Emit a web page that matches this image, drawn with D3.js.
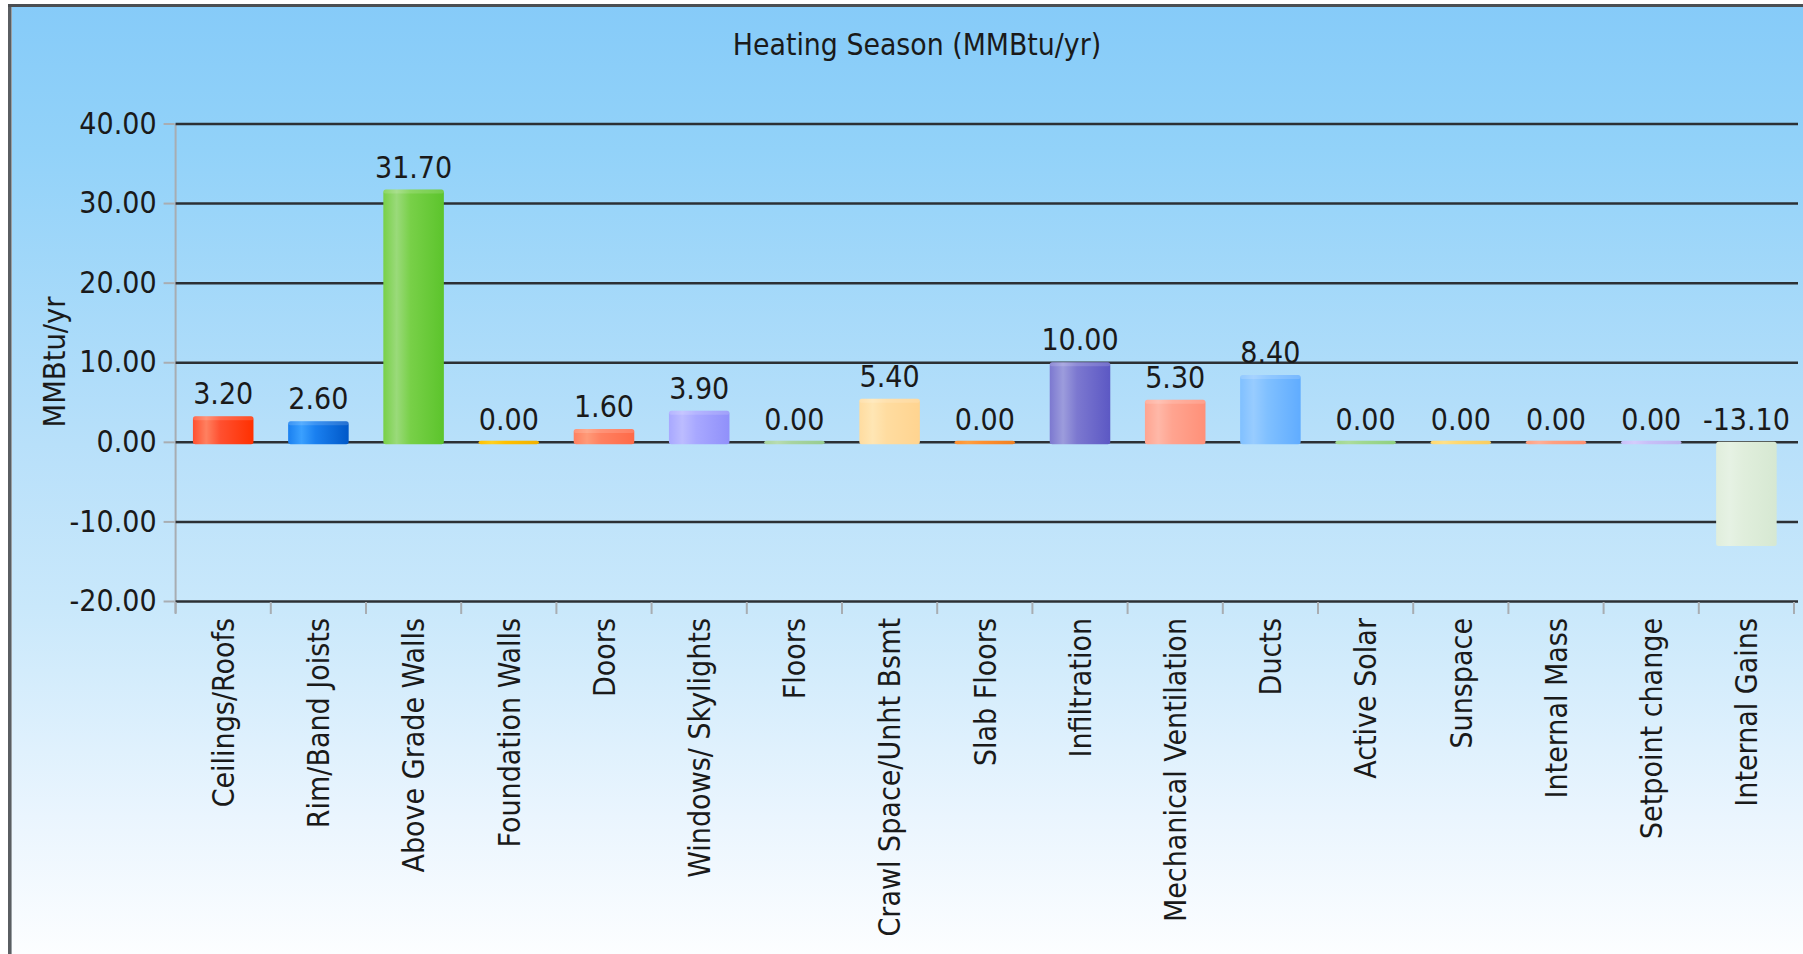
<!DOCTYPE html>
<html>
<head>
<meta charset="utf-8">
<script src="https://cdn.jsdelivr.net/npm/d3@7/dist/d3.min.js"></script>
<style>
  html, body { margin: 0; padding: 0; background: #ffffff; }
  svg { display: block; }
  text { font-family: "DejaVu Sans Condensed", "DejaVu Sans", sans-serif; font-stretch: condensed; fill: #1a1a1a; }
</style>
</head>
<body>
<svg id="chart" width="1803" height="954"></svg>
<script>
const chartTitle = "Heating Season (MMBtu/yr)";
const yAxisTitle = "MMBtu/yr";
const categories = ["Ceilings/Roofs", "Rim/Band Joists", "Above Grade Walls", "Foundation Walls", "Doors",
  "Windows/ Skylights", "Floors", "Crawl Space/Unht Bsmt", "Slab Floors", "Infiltration",
  "Mechanical Ventilation", "Ducts", "Active Solar", "Sunspace", "Internal Mass", "Setpoint change", "Internal Gains"];
const values = [3.20, 2.60, 31.70, 0.00, 1.60, 3.90, 0.00, 5.40, 0.00, 10.00, 5.30, 8.40, 0.00, 0.00, 0.00, 0.00, -13.10];
const yTicks = [40, 30, 20, 10, 0, -10, -20];
const yDomain = [-20, 40];
// bar colour palette: [light highlight, main, dark edge]
const barColors = [
  ["#ff8060", "#ff5030", "#ff3000"],
  ["#3aa0ff", "#1a80f0", "#0058c8"],
  ["#9ada7a", "#78d048", "#5cc42c"],
  ["#ffd020", "#ffc000", "#f0b000"],
  ["#ff9a78", "#ff8060", "#ff6a48"],
  ["#bcbcff", "#a8a8ff", "#9090fa"],
  ["#b8dcb0", "#a8d4a0", "#98cc90"],
  ["#ffe6b4", "#ffdca0", "#ffd490"],
  ["#ffa040", "#ff9030", "#f08020"],
  ["#9c9cdc", "#7c78d0", "#5c58c4"],
  ["#ffb8a8", "#ffa490", "#ff9078"],
  ["#98ccff", "#80c0ff", "#60acff"],
  ["#acdc9c", "#a0d890", "#90d080"],
  ["#ffe088", "#ffd870", "#f8cc60"],
  ["#ffb098", "#ffa080", "#ff9070"],
  ["#d4ccfc", "#c8c0f8", "#bcb4f0"],
  ["#e6f2e4", "#e0eedc", "#d6e8d2"]
];

(function () {
const svg = d3.select("#chart");
const W = 1803, H = 954;
const defs = svg.append("defs");
const fmt = d3.formatLocale({ decimal: ".", thousands: ",", grouping: [3], currency: ["$", ""], minus: "-" }).format(".2f");

const bg = defs.append("linearGradient").attr("id", "bg").attr("x1", 0).attr("y1", 0).attr("x2", 0).attr("y2", 1);
[[0, "#86cbf9"], [0.15, "#92d2f9"], [0.46, "#b8e0fa"], [0.63, "#c9e8fb"], [0.85, "#eaf5fe"], [1, "#fdfeff"]]
  .forEach(s => bg.append("stop").attr("offset", s[0]).attr("stop-color", s[1]));

// frame
svg.append("rect").attr("x", 10).attr("y", 6).attr("width", W).attr("height", H)
  .attr("fill", "url(#bg)");
svg.append("line").attr("x1", 9.5).attr("x2", 9.5).attr("y1", 5).attr("y2", H)
  .attr("stroke", "#5a5e62").attr("stroke-width", 3);
svg.append("line").attr("x1", 11.5).attr("x2", 11.5).attr("y1", 7).attr("y2", H)
  .attr("stroke", "#9aa0a4").attr("stroke-width", 1);
svg.append("line").attr("x1", 8).attr("x2", W).attr("y1", 5.5).attr("y2", 5.5)
  .attr("stroke", "#4a4e52").attr("stroke-width", 3);

const pLeft = 175.6, pRight = 1794, pTop = 123.5, pBottom = 601;

const x = d3.scaleBand().domain(categories).range([pLeft, pRight]).paddingInner(0.364).paddingOuter(0.182);
const y = d3.scaleLinear().domain(yDomain).range([pBottom, pTop]);

// title
svg.append("text").attr("x", 917).attr("y", 55).attr("text-anchor", "middle")
  .style("font-size", "29.8px").text(chartTitle);

// y axis title
svg.append("text").attr("transform", `translate(65,362) rotate(-90)`)
  .attr("text-anchor", "middle").style("font-size", "30.5px").text(yAxisTitle);

// vertical axis line
svg.append("line").attr("x1", pLeft).attr("x2", pLeft).attr("y1", pTop).attr("y2", pBottom + 12)
  .attr("stroke", "#a8adb2").attr("stroke-width", 2);

// gridlines
const gridG = svg.append("g").attr("transform", `translate(${pLeft},0)`)
  .call(d3.axisLeft(y).tickValues(yTicks).tickSize(-(pRight + 4 - pLeft)).tickFormat(""));
gridG.select(".domain").remove();
gridG.selectAll(".tick line").attr("stroke", "#2c3034").attr("stroke-width", 2.5);

// y tick marks + labels
const yAx = svg.append("g").attr("transform", `translate(${pLeft - 1},0)`)
  .call(d3.axisLeft(y).tickValues(yTicks).tickSize(11).tickPadding(7).tickFormat(fmt));
yAx.select(".domain").remove();
yAx.selectAll(".tick line").attr("stroke", "#a8adb2").attr("stroke-width", 2);
yAx.selectAll(".tick text").style("font-size", "30px").attr("fill", "#1a1a1a");
yAx.attr("font-family", null).attr("font-size", null);

// x boundary ticks
const bounds = d3.range(categories.length + 1).map(i => pLeft + i * x.step());
svg.append("g").selectAll("line").data(bounds).join("line")
  .attr("x1", d => d).attr("x2", d => d).attr("y1", pBottom + 1).attr("y2", pBottom + 13)
  .attr("stroke", "#a8adb2").attr("stroke-width", 2);

// x labels
const xAx = svg.append("g").attr("transform", `translate(0,${pBottom})`)
  .call(d3.axisBottom(x).tickSize(0).tickPadding(0));
xAx.select(".domain").remove();
xAx.attr("font-family", null).attr("font-size", null);
xAx.selectAll(".tick text")
  .style("font-size", "30px").attr("fill", "#1a1a1a")
  .attr("text-anchor", "end")
  .attr("transform", "translate(0,17) rotate(-90)")
  .attr("x", 0).attr("y", 0).attr("dy", "0.36em");

// bar gradients
barColors.forEach((c, i) => {
  const g = defs.append("linearGradient").attr("id", "bar" + i).attr("x1", 0).attr("x2", 1).attr("y1", 0).attr("y2", 0);
  [[0, c[1]], [0.22, c[0]], [0.45, c[1]], [1, c[2]]].forEach(s => g.append("stop").attr("offset", s[0]).attr("stop-color", s[1]));
});

const y0 = y(0);
const bars = svg.append("g");
bars.selectAll("rect.bar").data(values).join("rect").attr("class", "bar")
  .attr("x", (d, i) => x(categories[i]))
  .attr("width", x.bandwidth())
  .attr("y", d => d >= 0 ? Math.min(y(d), y0 - 1) : y0)
  .attr("height", d => d >= 0 ? Math.max(y0 + 2.5 - y(d), 3.5) : y(d) - y0)
  .attr("rx", 2.5)
  .attr("fill", (d, i) => `url(#bar${i})`);
// lighter top cap on positive bars
bars.selectAll("rect.cap").data(values).join("rect").attr("class", "cap")
  .attr("x", (d, i) => x(categories[i]))
  .attr("width", x.bandwidth())
  .attr("y", d => y(d))
  .attr("height", d => d > 1 ? 4 : 0)
  .attr("rx", 2)
  .attr("fill", "#ffffff").attr("opacity", 0.15);

// value labels
svg.append("g").selectAll("text").data(values).join("text")
  .attr("x", (d, i) => x(categories[i]) + x.bandwidth() / 2)
  .attr("y", d => Math.min(y(d), y0) - 12)
  .attr("text-anchor", "middle")
  .style("font-size", "30px")
  .text(d => fmt(d));
})();
</script>
</body>
</html>
